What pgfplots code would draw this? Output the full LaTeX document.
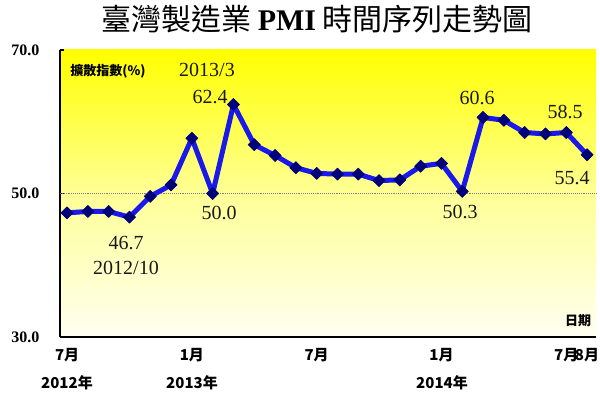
\documentclass[border=0pt]{standalone}
\usepackage{fontspec}
\setmainfont{Liberation Serif}
\newfontfamily\cjk{Noto Sans CJK TC}
\usepackage{pgfplots}
\pgfplotsset{compat=1.18}
\definecolor{plotblue}{RGB}{25,25,235}
\definecolor{markblue}{RGB}{0,0,120}
\definecolor{ytop}{RGB}{255,255,0}
\definecolor{ymid}{RGB}{255,255,150}
\definecolor{ybot}{RGB}{255,255,242}
\begin{document}
\begin{tikzpicture}
\begin{axis}[
 at={(0,0)}, anchor=south west,
 scale only axis, width=536pt, height=287pt,
 xmin=-0.34, xmax=25.43, ymin=30, ymax=70,
 axis lines*=left,
 axis line style={black, line width=1.8pt},
 axis background/.style={shade, top color=ytop, bottom color=ybot, middle color=ymid},
 ytick={30,50,70}, yticklabels={\textbf{30.0},\textbf{50.0},\textbf{70.0}},
 yticklabel style={font=\fontsize{16}{16}\selectfont, xshift=-17pt},
 tick align=inside,
 ytick style={black, line width=1.2pt}, major tick length=4pt,
 xtick={0,6,12,18,24,25}, xticklabels={7月,1月,7月,1月,7月,8月},
 xticklabel style={font=\cjk\bfseries\fontsize{15}{15}\selectfont, yshift=-8pt},
 x tick style={draw=none},
 clip=false,
]
\addplot[gray, densely dotted, line width=0.9pt] coordinates {(-0.34,50) (25.43,50)};
\addplot[plotblue, line width=5pt, line join=round, mark=square*, mark size=4.3pt,
  mark options={rotate=45, fill=markblue, draw=markblue, line width=0.6pt}] coordinates {
(0,47.3) (1,47.5) (2,47.5) (3,46.7) (4,49.6) (5,51.2) (6,57.7) (7,50.0) (8,62.4)
(9,56.8) (10,55.3) (11,53.6) (12,52.8) (13,52.7) (14,52.7) (15,51.8) (16,51.9)
(17,53.8) (18,54.2) (19,50.3) (20,60.6) (21,60.2) (22,58.5) (23,58.3) (24,58.5) (25,55.4)
};
\end{axis}
% title
\node[font=\fontsize{30}{30}\selectfont] at (257pt,318pt) {\cjk 臺灣製造業 \textrm{\bfseries PMI} 時間序列走勢圖};
% inner labels
\node[font=\cjk\bfseries\fontsize{13}{13}\selectfont] at (48pt,266pt) {擴散指數(\%)};
\node[font=\cjk\bfseries\fontsize{13}{13}\selectfont] at (518pt,16pt) {日期};
% years
\node[font=\cjk\bfseries\fontsize{15}{15}\selectfont] at (7pt,-46pt) {2012年};
\node[font=\cjk\bfseries\fontsize{15}{15}\selectfont] at (132pt,-46pt) {2013年};
\node[font=\cjk\bfseries\fontsize{15}{15}\selectfont] at (382pt,-46pt) {2014年};
% data labels
\begin{scope}[every node/.style={font=\fontsize{20}{20}\selectfont, text=black!90}]
\node at (147pt,267pt) {2013/3};
\node at (150pt,240pt) {62.4};
\node at (159pt,124pt) {50.0};
\node at (66pt,94pt) {46.7};
\node at (66pt,69pt) {2012/10};
\node at (417pt,239pt) {60.6};
\node at (505pt,225pt) {58.5};
\node at (512pt,159pt) {55.4};
\node at (400pt,125pt) {50.3};
\end{scope}
\pgfresetboundingbox
\path (-60pt,-56pt) rectangle (540pt,337pt);
\end{tikzpicture}
\end{document}
